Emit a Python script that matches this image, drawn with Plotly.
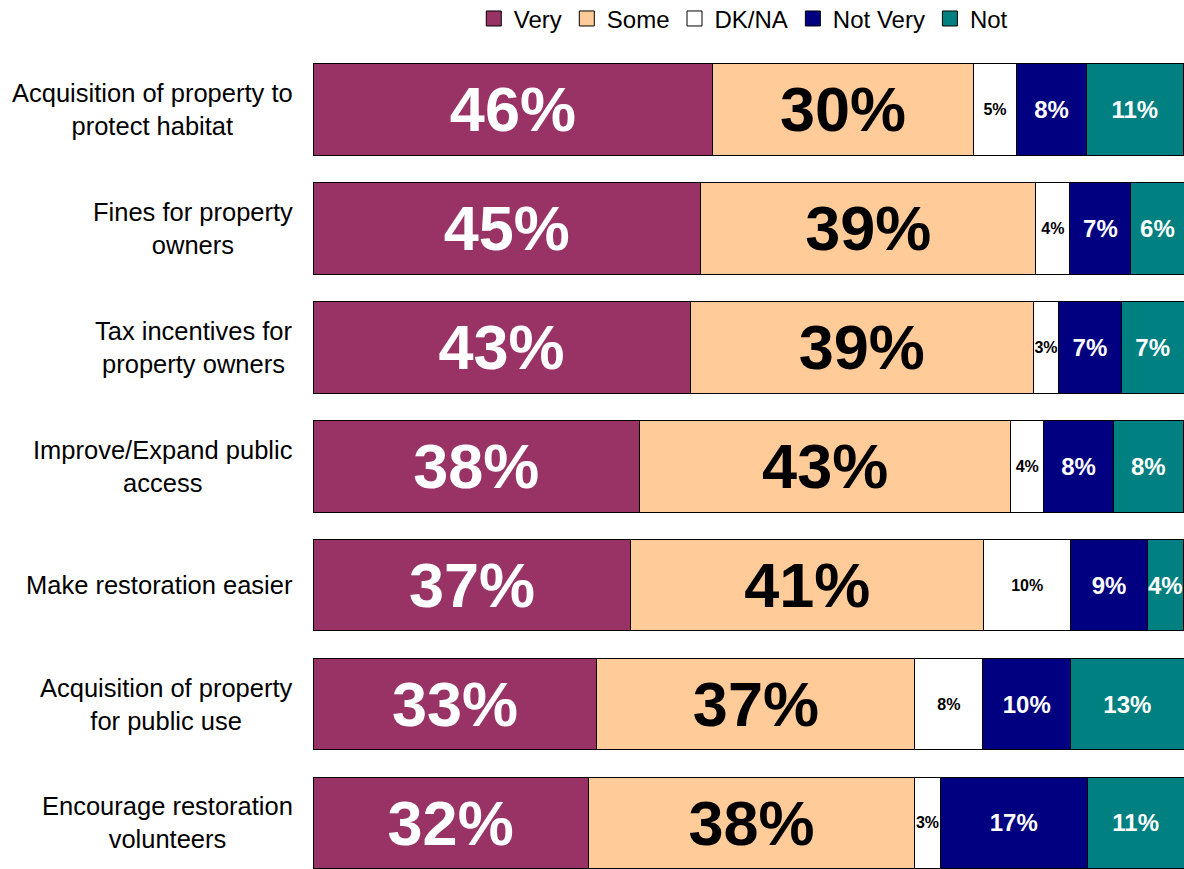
import plotly.graph_objects as go

categories = [
    "Acquisition of property to<br>protect habitat",
    "Fines for property<br>owners",
    "Tax incentives for<br>property owners",
    "Improve/Expand public<br>access",
    "Make restoration easier",
    "Acquisition of property<br>for public use",
    "Encourage restoration<br>volunteers",
]

# bar lengths (percent)
very = [45.9, 44.5, 43.3, 37.5, 36.5, 32.6, 31.6]
some = [29.9, 38.5, 39.4, 42.6, 40.5, 36.5, 37.5]
dkna = [5.0, 3.9, 2.9, 3.8, 10.0, 7.8, 2.9]
not_very = [8.0, 7.0, 7.2, 8.0, 8.8, 10.1, 16.9]
not_ = [11.1, 6.1, 7.2, 8.0, 4.1, 13.0, 11.1]

# printed labels
very_lbl = [46, 45, 43, 38, 37, 33, 32]
some_lbl = [30, 39, 39, 43, 41, 37, 38]
dkna_lbl = [5, 4, 3, 4, 10, 8, 3]
not_very_lbl = [8, 7, 7, 8, 9, 10, 17]
not_lbl = [11, 6, 7, 8, 4, 13, 11]

series = [
    ("Very", very, very_lbl, "#993366", "white", 63),
    ("Some", some, some_lbl, "#FFCC99", "black", 63),
    ("DK/NA", dkna, dkna_lbl, "#FFFFFF", "black", 16),
    ("Not Very", not_very, not_very_lbl, "#000080", "white", 24),
    ("Not", not_, not_lbl, "#008080", "white", 24),
]

FONT = "Liberation Sans, Arial, sans-serif"

fig = go.Figure()
for name, vals, lbls, color, tcolor, tsize in series:
    fig.add_trace(go.Bar(
        name=name,
        y=categories,
        x=vals,
        orientation="h",
        width=0.77,
        marker=dict(color=color, line=dict(color="black", width=1)),
        text=[f"{v}%" for v in lbls],
        textposition="inside",
        insidetextanchor="middle",
        constraintext="none",
        textangle=0,
        cliponaxis=False,
        textfont=dict(family=FONT, size=tsize, color=tcolor, weight="bold"),
        hoverinfo="skip",
        showlegend=False,
    ))

# legend entries with larger square swatches
for name, vals, lbls, color, tcolor, tsize in series:
    fig.add_trace(go.Scatter(
        name=name,
        x=[None],
        y=[None],
        mode="markers",
        marker=dict(symbol="square", size=15, color=color, line=dict(color="black", width=1)),
        showlegend=True,
        hoverinfo="skip",
    ))

# category labels, centred multi-line like the reference
for cat in categories:
    fig.add_annotation(
        x=-18 / 871,
        xref="paper",
        y=cat,
        yref="y",
        text=cat,
        showarrow=False,
        xanchor="right",
        yanchor="middle",
        align="center",
        font=dict(family=FONT, size=25.5, color="black"),
    )

fig.update_layout(
    template="none",
    barmode="stack",
    autosize=False,
    width=1184,
    height=869,
    margin=dict(l=313, r=0, t=50, b=0, pad=0, autoexpand=False),
    paper_bgcolor="white",
    plot_bgcolor="white",
    font=dict(family=FONT, color="black"),
    showlegend=True,
    legend=dict(
        orientation="h",
        x=0.494,
        xanchor="center",
        y=1.038,
        yanchor="middle",
        font=dict(family=FONT, size=24, color="black"),
        traceorder="normal",
        itemwidth=30,
        bgcolor="rgba(0,0,0,0)",
        borderwidth=0,
    ),
    xaxis=dict(range=[0, 100], visible=False, showgrid=False, zeroline=False,
               fixedrange=True, automargin=False),
    yaxis=dict(
        categoryorder="array",
        categoryarray=categories,
        range=[6.387, -0.5],
        showgrid=False,
        zeroline=False,
        showline=False,
        ticks="",
        showticklabels=False,
        automargin=False,
    ),
)

fig.write_html(
    "out.html",
    config={"responsive": False, "displayModeBar": False},
    post_script="document.body.style.margin='0';document.body.style.padding='0';document.body.style.overflow='hidden';document.documentElement.style.overflow='hidden';",
)
